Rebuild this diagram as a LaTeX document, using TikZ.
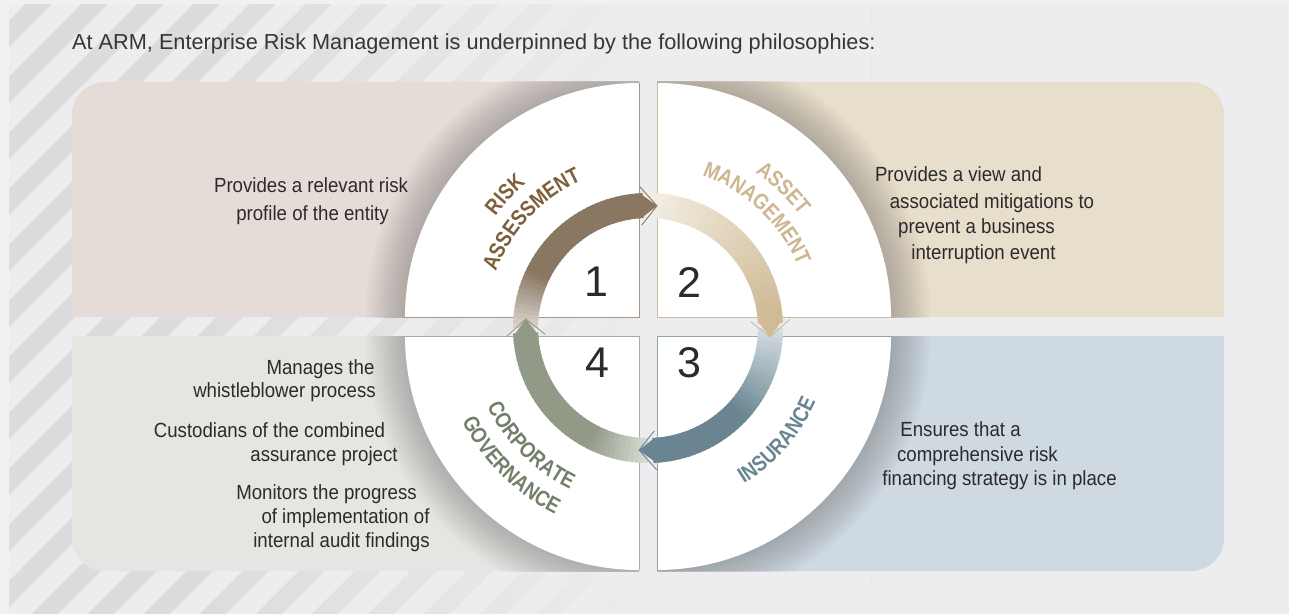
\documentclass[tikz,border=0pt]{standalone}
\usepackage{fontspec}
\setmainfont{Liberation Sans}
\newfontfamily\bodyfont[FakeStretch=0.91]{Liberation Sans}
\newfontfamily\labfont[FakeStretch=0.85]{Liberation Sans}
\usetikzlibrary{decorations.text,fadings}

\definecolor{bgframe}{HTML}{F1F1F3}
\definecolor{bgmain}{HTML}{EDEDEF}
\definecolor{stripec}{HTML}{DCDCDF}
\definecolor{pTL}{HTML}{E5DCD8}
\definecolor{pTR}{HTML}{E7DECC}
\definecolor{pBL}{HTML}{E4E6E2}
\definecolor{pBR}{HTML}{CFD9E1}
\definecolor{dA}{HTML}{8A7761}\definecolor{lA}{HTML}{DDD6D0}
\definecolor{dB}{HTML}{D0BB96}\definecolor{lB}{HTML}{F3EEE5}
\definecolor{dC}{HTML}{6A8591}\definecolor{lC}{HTML}{D6DFE4}
\definecolor{dD}{HTML}{909A87}\definecolor{lD}{HTML}{DADDD6}
\definecolor{tA}{HTML}{7D5F3C}
\definecolor{tB}{HTML}{CDB690}
\definecolor{tC}{HTML}{698591}
\definecolor{tD}{HTML}{738069}
\definecolor{eA}{HTML}{A89684}
\definecolor{eB}{HTML}{CBB99C}
\definecolor{eC}{HTML}{8FA3AD}
\definecolor{eD}{HTML}{A5AD9C}
\definecolor{txt}{HTML}{2B2B2B}
\definecolor{titlec}{HTML}{363636}

\tikzfading[name=stripefade, left color=transparent!0, right color=transparent!100]

\newcommand\labA{\labfont\bfseries\fontsize{22}{24}\selectfont\color{tA}}
\newcommand\labB{\labfont\bfseries\fontsize{22}{24}\selectfont\color{tB}}
\newcommand\labC{\labfont\bfseries\fontsize{22}{24}\selectfont\color{tC}}
\newcommand\labD{\labfont\bfseries\fontsize{22}{24}\selectfont\color{tD}}

% #1 start angle, #2 base angle, #3 dark, #4 light, #5 fraction reaching full colour
\newcommand\ringpart[5]{%
  \foreach \i in {0,...,39}{%
    \pgfmathsetmacro\aa{#1-\i*(#1-(#2))/40}%
    \pgfmathsetmacro\bb{\aa-(#1-(#2))/40-1.2}%
    \pgfmathsetmacro\pp{min(100,100*(\i+0.5)/40/#5)}%
    \fill[#3!\pp!#4] (\aa:110) arc[start angle=\aa,end angle=\bb,radius=110]
      -- (\bb:135) arc[start angle=\bb,end angle=\aa,radius=135] -- cycle;
  }%
}
% #1 base angle, #2 tip angle, #3 colour
\newcommand\ringhead[3]{%
  \fill[#3] (#1:110) -- (#2:122.5) -- (#1:135) -- cycle;
  \draw[#3, line width=0.9, line join=miter] (#1:103) -- (#2:122.5) -- (#1:142);
}
% #1 clip region, #2 centre
\newcommand\discshadow[2]{%
  \begin{scope}
    \clip #1;
    \foreach \k in {1,...,14}{\fill[black,opacity=0.014] #2 circle[radius={234+2.8*\k}];}
  \end{scope}
}

\tikzset{
  body/.style={anchor=base, inner sep=0pt, font=\bodyfont\fontsize{20.5}{24}\selectfont, text=txt},
  num/.style={inner sep=0pt, font=\fontsize{43}{43}\selectfont, text=txt},
}

\begin{document}
\begin{tikzpicture}[x=1pt,y=1pt]
\useasboundingbox (0,0) rectangle (1289,614);
% background
\fill[bgframe] (0,0) rectangle (1289,614);
\fill[bgmain] (9,0) rectangle (1289,609);
\begin{scope}
  \clip (9,0) rectangle (1289,609);
  \fill[stripec, path fading=stripefade, fit fading=false,
        fading transform={shift={(420,307)},xscale=9,yscale=8}]
    \foreach \s in {-640,-584,...,900} {(\s,0) -- ++(26,0) -- ++(614,614) -- ++(-26,0) -- cycle};
\end{scope}

% panels
\fill[pTL] (639,297) -- (72,297) -- (72,499) arc[start angle=180,end angle=90,radius=33] -- (639,532) -- cycle;
\fill[pTR] (657,297) -- (657,532) -- (1191,532) arc[start angle=90,end angle=0,radius=33] -- (1224,297) -- cycle;
\fill[pBL] (639,278) -- (639,43) -- (105,43) arc[start angle=270,end angle=180,radius=33] -- (72,278) -- cycle;
\fill[pBR] (657,278) -- (1224,278) -- (1224,76) arc[start angle=0,end angle=-90,radius=33] -- (657,43) -- cycle;

% shadows of the discs
\discshadow{(72,297) rectangle (639,532)}{(639,297)}
\discshadow{(657,297) rectangle (1224,532)}{(657,297)}
\discshadow{(657,43) rectangle (1224,278)}{(657,278)}
\discshadow{(72,43) rectangle (639,278)}{(639,278)}

% white quarter discs
\fill[white] (639,297) -- (405,297) arc[start angle=180,end angle=90,radius=234] -- cycle;
\fill[white] (657,297) -- (657,531) arc[start angle=90,end angle=0,radius=234] -- cycle;
\fill[white] (657,278) -- (891,278) arc[start angle=0,end angle=-90,radius=234] -- cycle;
\fill[white] (639,278) -- (639,44) arc[start angle=270,end angle=180,radius=234] -- cycle;
% thin edge lines
\draw[eA, line width=0.8] (405,297) -- (639,297) -- (639,531);
\draw[eB, line width=0.8] (891,297) -- (657,297) -- (657,531);
\draw[eC, line width=0.8] (891,278) -- (657,278) -- (657,44);
\draw[eD, line width=0.8] (405,278) -- (639,278) -- (639,44);

% ring of arrows and curved labels
\begin{scope}[shift={(648,286)}]
  \ringpart{180}{93.5}{dA}{lA}{0.3}
  \ringpart{90}{3.5}{dB}{lB}{0.95}
  \ringpart{0}{-86.5}{dC}{lC}{0.5}
  \ringpart{270}{183.5}{dD}{lD}{0.32}
  \ringhead{93.5}{85.8}{dA}
  \ringhead{3.5}{-4.2}{dB}
  \ringhead{-86.5}{-94.2}{dC}
  \ringhead{183.5}{175.8}{dD}

  \path[decorate, decoration={text along path, text align=center, text={|\labA|RISK}}]
    (182:189) arc[start angle=182,end angle=92,radius=189];
  \path[decorate, decoration={text along path, text align=center, text={|\labA|ASSESSMENT}}]
    (182:162) arc[start angle=182,end angle=92,radius=162];
  \path[decorate, decoration={text along path, text align=center, text={|\labB|ASSET}}]
    (91:189) arc[start angle=91,end angle=1,radius=189];
  \path[decorate, decoration={text along path, text align=center, text={|\labB|MANAGEMENT}}]
    (91.5:162) arc[start angle=91.5,end angle=1.5,radius=162];
  \path[decorate, decoration={text along path, text align=center, text={|\labC|INSURANCE}}]
    (-86:183) arc[start angle=-86,end angle=4,radius=183];
  \path[decorate, decoration={text along path, text align=center, text={|\labD|CORPORATE}}]
    (180:179) arc[start angle=180,end angle=270,radius=179];
  \path[decorate, decoration={text along path, text align=center, text={|\labD|GOVERNANCE}}]
    (180:208) arc[start angle=180,end angle=270,radius=208];
\end{scope}

% numbers
\node[num] (n1) at (596.5,332.5) {1};
\node[num] (n2) at (689,332) {2};
\node[num] (n3) at (689,251.5) {3};
\node[num] (n4) at (597,251.5) {4};

% title
\node[anchor=base west, inner sep=0pt, font=\fontsize{21.7}{26}\selectfont, text=titlec] (title) at (72,564)
  {At ARM, Enterprise Risk Management is underpinned by the following philosophies:};

% texts
\node[body] (tl1) at (311,421) {Provides a relevant risk};
\node[body] (tl2) at (312.5,393.5) {profile of the entity};

\node[body] (tr1) at (958.5,432.3) {Provides a view and};
\node[body] (tr2) at (992,405.7) {associated mitigations to};
\node[body] (tr3) at (976.5,380.3) {prevent a business};
\node[body] (tr4) at (983.5,355) {interruption event};

\node[body] (br1) at (960.5,178) {Ensures that a};
\node[body] (br2) at (977.5,153) {comprehensive risk};
\node[body] (br3) at (999.5,128.5) {financing strategy is in place};

\node[body] (bl1) at (320.5,240) {Manages the};
\node[body] (bl2) at (284.5,216.3) {whistleblower process};
\node[body] (bl3) at (269.5,176.7) {Custodians of the combined};
\node[body] (bl4) at (324,153) {assurance project};
\node[body] (bl5) at (326.5,115) {Monitors the progress};
\node[body] (bl6) at (345.5,90.7) {of implementation of};
\node[body] (bl7) at (341.5,66.7) {internal audit findings};
\end{tikzpicture}
\end{document}
